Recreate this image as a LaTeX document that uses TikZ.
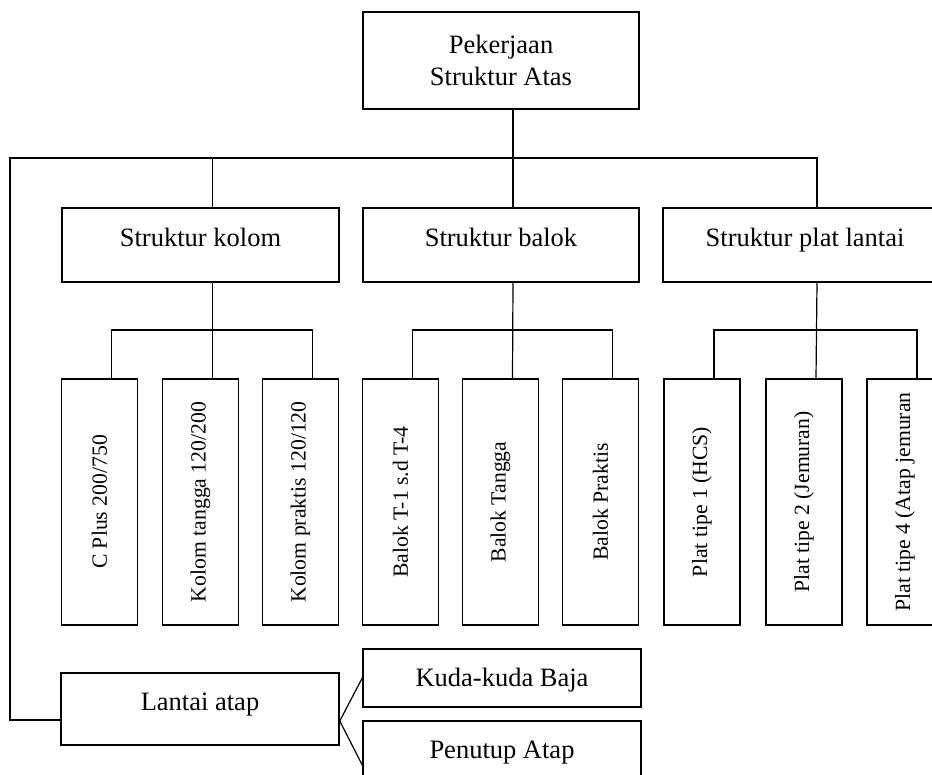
\documentclass[tikz,border=0pt]{standalone}
\usepackage{fontspec}
\setmainfont{Liberation Serif}
\usepackage{graphicx}

\tikzset{
  kotak/.style={draw, line width=1.5pt, inner sep=2pt},
  blok/.style={kotak, minimum height=74pt, text height=18pt, text depth=16pt,
    font=\fontsize{26.5}{32}\selectfont},
  tegak/.style={kotak, minimum width=76pt, minimum height=246pt,
    font=\fontsize{21.7}{26}\selectfont},
  garis/.style={line width=1.2pt}
}
\newcommand{\putar}[1]{\rotatebox{90}{#1}}

\begin{document}
\begin{tikzpicture}[x=1pt,y=-1pt]
\useasboundingbox[fill=white] (0,0) rectangle (932,774);
\clip (0,0) rectangle (932,774);

\node[kotak, minimum width=276pt, minimum height=97pt, align=center,
  font=\fontsize{26.5}{32}\selectfont] (atas) at (501,60.5) {Pekerjaan\\Struktur Atas};

\node[blok, minimum width=277pt] (kolom) at (200.5,245) {Struktur kolom};
\node[blok, minimum width=276pt] (balok) at (501,245) {Struktur balok};
\node[blok, minimum width=284pt] (plat) at (805,245) {Struktur plat lantai};

\node[tegak] (cplus) at (99.5,502) {\putar{C Plus 200/750}};
\node[tegak] (ktangga) at (200.5,502) {\putar{Kolom tangga 120/200}};
\node[tegak] (kpraktis) at (300.5,502) {\putar{Kolom praktis 120/120}};
\node[tegak] (bt) at (400.5,502) {\putar{Balok T-1 s.d T-4}};
\node[tegak] (btangga) at (500.5,502) {\putar{Balok Tangga}};
\node[tegak] (bpraktis) at (600.5,502) {\putar{Balok Praktis}};
\node[tegak] (plat1) at (702,502) {\putar{Plat tipe 1 (HCS)}};
\node[tegak] (plat2) at (804,502) {\putar{Plat tipe 2 (Jemuran)}};
\node[tegak] (plat4) at (905,502) {\putar{Plat tipe 4 (Atap jemuran}};

\node[blok, minimum width=278pt, minimum height=72pt] (lantai) at (200,709) {Lantai atap};
\node[blok, minimum width=278pt, minimum height=58pt, text depth=2pt] (kuda) at (502,678) {Kuda-kuda Baja};
\node[blok, minimum width=278pt, minimum height=58pt, text depth=2pt] (penutup) at (502,750) {Penutup Atap};

% garis penghubung
\coordinate (bus) at (10,158);
\coordinate (subbar) at (0,330);

\draw[garis] ([xshift=12pt]atas.south) -- ([xshift=12pt]balok.north);
\draw[garis] ([yshift=-11pt]lantai.west) -| (bus) -| ([xshift=12pt]plat.north);
\draw[garis] ([xshift=12pt]kolom.north) -- ([xshift=12pt]kolom.north |- bus);

\draw[garis] ([xshift=12pt]kolom.south) -- ([xshift=12pt]ktangga.north);
\draw[garis] ([xshift=12pt]cplus.north) -- ([xshift=12pt]cplus.north |- subbar) -| ([xshift=12pt]kpraktis.north);

\draw[garis] ([xshift=12pt]balok.south) -- ([xshift=12pt]btangga.north);
\draw[garis] ([xshift=12pt]bt.north) -- ([xshift=12pt]bt.north |- subbar) -| ([xshift=12pt]bpraktis.north);

\draw[garis] ([xshift=12pt]plat.south) -- ([xshift=12pt]plat2.north);
\draw[garis] ([xshift=12pt]plat1.north) -- ([xshift=12pt]plat1.north |- subbar) -| ([xshift=12pt]plat4.north);

\draw[garis] ([yshift=-12pt]lantai.east) -- (kuda.west);
\draw[garis] ([yshift=-12pt]lantai.east) -- ([yshift=-15pt]penutup.west);
\end{tikzpicture}
\end{document}
